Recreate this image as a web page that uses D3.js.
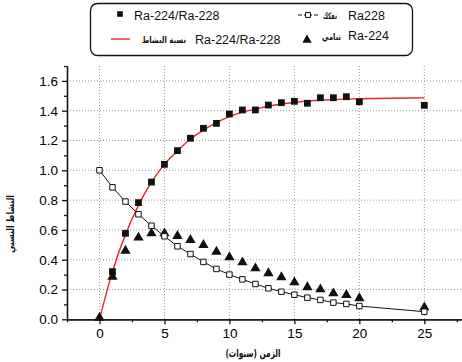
<!DOCTYPE html>
<html>
<head>
<meta charset="utf-8">
<script src="https://cdn.jsdelivr.net/npm/d3@7"></script>
<style>
  body { margin: 0; background: #fff; }
  svg { display: block; font-family: "Liberation Sans", Arial, sans-serif; }
</style>
</head>
<body>
<svg id="chart" width="462" height="362"></svg>
<script>
// years at which values were measured
var years = [0, 1, 2, 3, 4, 5, 6, 7, 8, 9, 10, 11, 12, 13, 14, 15, 16, 17, 18, 19, 20, 25]

// Ra228 decay (open squares, joined)
var ra228 = [1.0, 0.886, 0.79, 0.705, 0.628, 0.557, 0.49, 0.438, 0.385, 0.338, 0.30,
    0.268, 0.237, 0.208, 0.185, 0.165, 0.145, 0.13, 0.112, 0.103, 0.089, 0.051]

// Ra-224 ingrowth (filled triangles)
var ra224 = [0.01, 0.286, 0.46, 0.548, 0.577, 0.577, 0.559, 0.532, 0.499, 0.454, 0.416,
    0.382, 0.342, 0.309, 0.282, 0.248, 0.215, 0.201, 0.174, 0.163, 0.141, 0.08]

// Ra-224/Ra-228 ratio (filled squares), no point at year 0
var ratioYears = [1, 2, 3, 4, 5, 6, 7, 8, 9, 10, 11, 12, 13, 14, 15, 16, 17, 18, 19, 20, 25]
var ratio = [0.32, 0.577, 0.783, 0.921, 1.04, 1.132, 1.215, 1.282, 1.315, 1.378,
    1.405, 1.405, 1.438, 1.454, 1.463, 1.45, 1.487, 1.487, 1.494, 1.46, 1.436]

// fitted activity ratio curve (red)
var fitYears = [0, 1, 2, 3, 4, 5, 6, 7, 8, 9, 10, 11, 12, 13, 14, 15, 16, 17, 18, 19, 20, 25]
var fitRatio = [0, 0.32, 0.57, 0.765, 0.92, 1.04, 1.13, 1.21, 1.27, 1.32, 1.36,
    1.39, 1.41, 1.43, 1.445, 1.455, 1.465, 1.47, 1.475, 1.478, 1.48, 1.486]

var xMajor = [0, 5, 10, 15, 20, 25]
var xMinor = [-2.5, 2.5, 7.5, 12.5, 17.5, 22.5, 27.5]
var yMajor = [0, 0.2, 0.4, 0.6, 0.8, 1.0, 1.2, 1.4, 1.6]
var yMinor = [0.1, 0.3, 0.5, 0.7, 0.9, 1.1, 1.3, 1.5, 1.7]

var svg = d3.select('#chart')

var x = d3.scaleLinear().domain([-2.5, 27.9]).range([67, 462])
var y = d3.scaleLinear().domain([0, 1.7]).range([319.3, 66])

// dotted grid
var grid = svg.append('g')
    .attr('stroke', '#9a9a9a')
    .attr('stroke-width', 1)
    .attr('stroke-dasharray', '1,2')

grid.selectAll('line.v')
    .data(xMajor)
    .enter()
    .append('line')
    .attr('class', 'v')
    .attr('x1', d => x(d)).attr('x2', d => x(d))
    .attr('y1', y(1.7)).attr('y2', y(0))

grid.selectAll('line.h')
    .data(yMajor.slice(1))
    .enter()
    .append('line')
    .attr('class', 'h')
    .attr('x1', x(-2.5)).attr('x2', 462)
    .attr('y1', d => y(d)).attr('y2', d => y(d))

// axes
svg.append('g')
    .attr('transform', 'translate(0,' + y(0) + ')')
    .call(d3.axisBottom(x).tickValues(xMajor).tickSize(5).tickSizeOuter(0).tickPadding(4))
svg.append('g')
    .attr('transform', 'translate(0,' + y(0) + ')')
    .call(d3.axisBottom(x).tickValues(xMinor).tickSize(3).tickFormat('').tickSizeOuter(0))

svg.append('g')
    .attr('transform', 'translate(' + x(-2.5) + ',0)')
    .call(d3.axisLeft(y).tickValues(yMajor).tickFormat(d3.format('.1f')).tickSize(5).tickSizeOuter(0).tickPadding(4))
svg.append('g')
    .attr('transform', 'translate(' + x(-2.5) + ',0)')
    .call(d3.axisLeft(y).tickValues(yMinor).tickSize(3).tickFormat('').tickSizeOuter(0))

svg.selectAll('.domain, .tick line')
    .attr('stroke', '#111')
    .attr('stroke-width', 1.3)
svg.selectAll('.tick text')
    .attr('font-family', '"Liberation Sans", Arial, sans-serif')
    .attr('font-size', 13.5)
    .attr('fill', '#000')

// red fitted curve
var fitLine = d3.line()
    .x((d, i) => x(fitYears[i]))
    .y(d => y(d))
    .curve(d3.curveMonotoneX)

svg.append('path')
    .datum(fitRatio)
    .attr('d', fitLine)
    .attr('fill', 'none')
    .attr('stroke', '#e8262a')
    .attr('stroke-width', 1.4)

// Ra228 decay line
var decayLine = d3.line()
    .x((d, i) => x(years[i]))
    .y(d => y(d))

svg.append('path')
    .datum(ra228)
    .attr('d', decayLine)
    .attr('fill', 'none')
    .attr('stroke', '#111')
    .attr('stroke-width', 1)

var square = d3.symbol().type(d3.symbolSquare)
var triangle = d3.symbol().type(d3.symbolTriangle)

// triangles
svg.selectAll('path.tri')
    .data(ra224)
    .enter()
    .append('path')
    .attr('class', 'tri')
    .attr('d', triangle.size(46))
    .attr('transform', (d, i) => 'translate(' + x(years[i]) + ',' + y(d) + ')')
    .attr('fill', '#111')

// filled squares
svg.selectAll('path.ratio')
    .data(ratio)
    .enter()
    .append('path')
    .attr('class', 'ratio')
    .attr('d', square.size(46))
    .attr('transform', (d, i) => 'translate(' + x(ratioYears[i]) + ',' + y(d) + ')')
    .attr('fill', '#111')

// open squares
svg.selectAll('path.decay')
    .data(ra228)
    .enter()
    .append('path')
    .attr('class', 'decay')
    .attr('d', square.size(30))
    .attr('transform', (d, i) => 'translate(' + x(years[i]) + ',' + y(d) + ')')
    .attr('fill', '#fff')
    .attr('stroke', '#111')
    .attr('stroke-width', 1)

// axis titles
svg.append('text')
    .attr('x', 253)
    .attr('y', 357)
    .attr('text-anchor', 'middle')
    .attr('font-family', '"DejaVu Sans", sans-serif')
    .attr('font-weight', 'bold')
    .attr('font-size', 11)
    .attr('textLength', 55)
    .attr('lengthAdjust', 'spacingAndGlyphs')
    .attr('fill', '#111')
    .text('الزمن (سنوات)')

svg.append('text')
    .attr('transform', 'translate(14,224) rotate(-90)')
    .attr('text-anchor', 'middle')
    .attr('font-family', '"DejaVu Sans", sans-serif')
    .attr('font-weight', 'bold')
    .attr('font-size', 10.5)
    .attr('textLength', 58)
    .attr('lengthAdjust', 'spacingAndGlyphs')
    .attr('fill', '#111')
    .text('النشاط النسبي')

// legend
var legend = svg.append('g')

legend.append('rect')
    .attr('x', 90.5).attr('y', 3.5)
    .attr('width', 322).attr('height', 52)
    .attr('rx', 7)
    .attr('fill', '#fff')
    .attr('stroke', '#111')
    .attr('stroke-width', 1.3)

legend.append('path')
    .attr('d', square.size(32))
    .attr('transform', 'translate(120,14)')
    .attr('fill', '#111')

legend.append('line')
    .attr('x1', 111).attr('x2', 130)
    .attr('y1', 39).attr('y2', 39)
    .attr('stroke', '#e8262a').attr('stroke-width', 1.4)

legend.append('line')
    .attr('x1', 298).attr('x2', 318)
    .attr('y1', 15).attr('y2', 15)
    .attr('stroke', '#111').attr('stroke-width', 1)
    .attr('stroke-dasharray', '4,2,8,2,4')
legend.append('path')
    .attr('d', square.size(24))
    .attr('transform', 'translate(308,15)')
    .attr('fill', '#fff')
    .attr('stroke', '#111')

legend.append('path')
    .attr('d', triangle.size(38))
    .attr('transform', 'translate(307,40)')
    .attr('fill', '#111')

var latin = [
    { t: 'Ra-224/Ra-228', x: 134, y: 20 },
    { t: 'Ra-224/Ra-228', x: 195, y: 44 },
    { t: 'Ra228', x: 348, y: 20 },
    { t: 'Ra-224', x: 348, y: 40 }
]
legend.selectAll('text.lat')
    .data(latin)
    .enter()
    .append('text')
    .attr('class', 'lat')
    .attr('x', d => d.x).attr('y', d => d.y)
    .attr('font-size', 12.5)
    .attr('fill', '#111')
    .text(d => d.t)

var arabic = [
    { t: 'تفكك', x: 323, y: 19, w: 14 },
    { t: 'نسبة النشاط', x: 142, y: 43, w: 44 },
    { t: 'تنامي', x: 322, y: 40, w: 19 }
]
legend.selectAll('text.ar')
    .data(arabic)
    .enter()
    .append('text')
    .attr('class', 'ar')
    .attr('x', d => d.x).attr('y', d => d.y)
    .attr('font-family', '"DejaVu Sans", sans-serif')
    .attr('font-weight', 'bold')
    .attr('font-size', 9)
    .attr('textLength', d => d.w)
    .attr('lengthAdjust', 'spacingAndGlyphs')
    .attr('fill', '#111')
    .text(d => d.t)
</script>
</body>
</html>
